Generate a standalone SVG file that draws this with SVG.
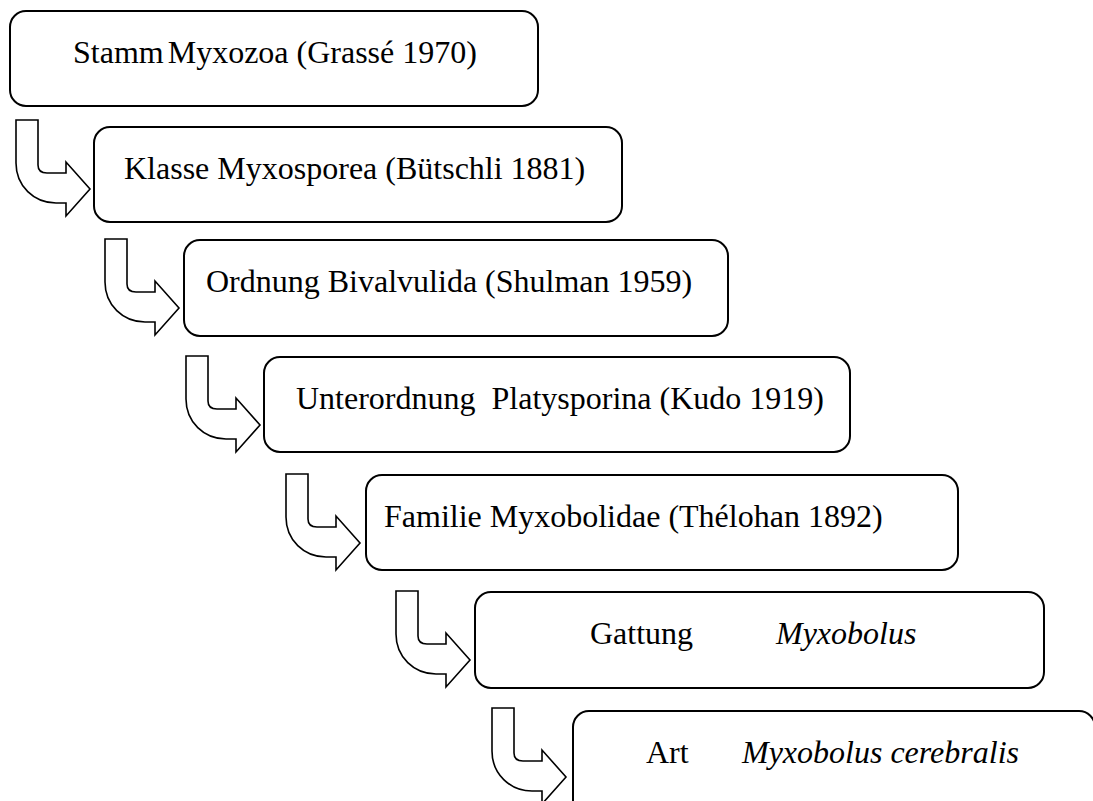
<svg xmlns="http://www.w3.org/2000/svg" width="1093" height="801" viewBox="0 0 1093 801">
<defs>
<style>
.box{fill:#fff;stroke:#000;stroke-width:2}
.arr{fill:#fff;stroke:#000;stroke-width:1.6;stroke-linejoin:miter}
.t{font-family:"Liberation Serif","Times New Roman",serif;font-size:32px;fill:#000}
.i{font-style:italic}
</style>
<path id="bent" d="M0,0 H22 V45 Q22,53 31,53 H50 V42 L74,69 L50,96 V83 H40 C18,83 0,66 0,43 Z"/>
</defs>
<rect width="1093" height="801" fill="#fff"/>
<g id="connectors">
<use href="#bent" class="arr" x="16" y="120"/>
<use href="#bent" class="arr" x="105" y="239"/>
<use href="#bent" class="arr" x="186" y="356"/>
<use href="#bent" class="arr" x="286" y="474"/>
<use href="#bent" class="arr" x="396" y="591"/>
<use href="#bent" class="arr" x="492" y="708"/>
</g>
<g id="stamm"><rect class="box" x="10" y="11" width="528" height="95" rx="16"/><text class="t" x="73" y="63">Stamm<tspan dx="4">Myxozoa (Grassé 1970)</tspan></text></g>
<g id="klasse"><rect class="box" x="94" y="127" width="528" height="95" rx="16"/><text class="t" x="124" y="179">Klasse Myxosporea (Bütschli 1881)</text></g>
<g id="ordnung"><rect class="box" x="184" y="240" width="544" height="96" rx="16"/><text class="t" x="206" y="292">Ordnung Bivalvulida (Shulman 1959)</text></g>
<g id="unterordnung"><rect class="box" x="264" y="357" width="586" height="95" rx="16"/><text class="t" x="296" y="409" xml:space="preserve">Unterordnung  Platysporina (Kudo 1919)</text></g>
<g id="familie"><rect class="box" x="366" y="475" width="592" height="95" rx="16"/><text class="t" x="384" y="527">Familie Myxobolidae (Thélohan 1892)</text></g>
<g id="gattung"><rect class="box" x="475" y="592" width="569" height="96" rx="16"/><text class="t" x="590" y="644">Gattung</text><text class="t i" x="776" y="644">Myxobolus</text></g>
<g id="art"><rect class="box" x="573" y="711" width="522" height="140" rx="16"/><text class="t" x="646" y="763">Art</text><text class="t i" x="742" y="763">Myxobolus cerebralis</text></g>
</svg>
